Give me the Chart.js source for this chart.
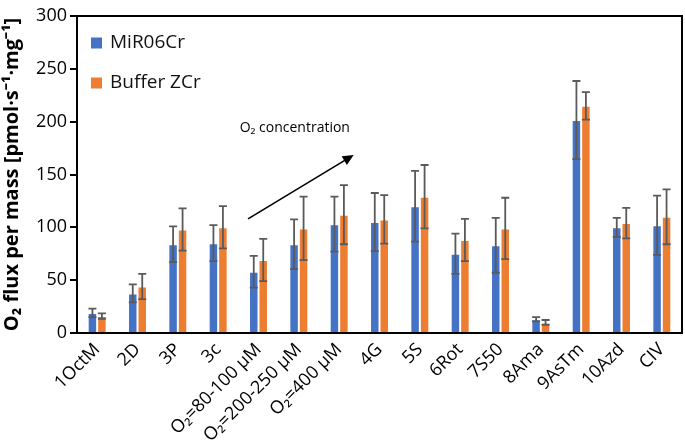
<!DOCTYPE html>
<html>
<head>
<meta charset="utf-8">
<script src="https://cdn.jsdelivr.net/npm/chart.js@4"></script>
<style>
  html, body { margin: 0; padding: 0; background: #fff; }
  #wrap { width: 685px; height: 440px; position: relative; }
</style>
</head>
<body>
<div id="wrap"><canvas id="fluxChart"></canvas></div>
<script>
// categories and values
const categories = ['1OctM', '2D', '3P', '3c', 'O\u2082=80-100 \u00b5M', 'O\u2082=200-250 \u00b5M', 'O\u2082=400 \u00b5M',
  '4G', '5S', '6Rot', '7S50', '8Ama', '9AsTm', '10Azd', 'CIV'];
const mirValues = [19, 37.5, 84, 85, 58, 84, 103, 105, 120, 75, 83, 13, 201.5, 100, 102];
const mirErrors = [4, 8.5, 17, 17, 15, 23.5, 26, 27.5, 33.5, 19, 26, 2, 37, 9, 28];
const bufValues = [16, 44, 98, 100, 69, 99, 112, 107.5, 129, 88, 99, 10, 215, 104, 110];
const bufErrors = [2.5, 12, 20, 20, 20, 30, 28, 23, 30, 20, 29, 2.3, 13, 14.5, 26];
const yTicks = [0, 50, 100, 150, 200, 250, 300];

// arrow annotation in data units (category index, value)
const arrowFrom = [3.74, 108];
const arrowTo = [6.36, 168.5];
const arrowLabelAt = [4.9, 194];

const BLUE = '#4472C4';
const ORANGE = '#ED7D31';
const FONT = "'Open Sans', 'Liberation Sans', sans-serif";

// error bars drawn from dataset errors through the scales
const errorBars = {
  id: 'errorBars',
  afterDatasetsDraw(chart) {
    const ctx = chart.ctx;
    const y = chart.scales.y;
    ctx.save();
    ctx.strokeStyle = '#5a5a5a';
    ctx.lineWidth = 1.8;
    chart.data.datasets.forEach((ds, di) => {
      const meta = chart.getDatasetMeta(di);
      meta.data.forEach((bar, i) => {
        const v = ds.data[i], e = ds.errors[i];
        const x = bar.x;
        const top = y.getPixelForValue(v + e);
        const bot = y.getPixelForValue(v - e);
        ctx.beginPath();
        ctx.moveTo(x, top); ctx.lineTo(x, bot);
        ctx.moveTo(x - 4, top); ctx.lineTo(x + 4, top);
        ctx.moveTo(x - 4, bot); ctx.lineTo(x + 4, bot);
        ctx.stroke();
      });
    });
    ctx.restore();
  }
};

// legend inside the plot, stacked vertically
const insideLegend = {
  id: 'insideLegend',
  afterDraw(chart) {
    const ctx = chart.ctx;
    const a = chart.chartArea;
    ctx.save();
    ctx.font = '19px ' + FONT;
    ctx.textAlign = 'left';
    ctx.textBaseline = 'middle';
    chart.data.datasets.forEach((ds, i) => {
      const cy = a.top + 27 + i * 40;
      ctx.fillStyle = ds.backgroundColor;
      ctx.fillRect(a.left + 14, cy - 5.5, 11, 11);
      ctx.fillStyle = '#111';
      ctx.fillText(ds.label, a.left + 33, cy);
    });
    ctx.restore();
  }
};

// plot frame, arrow and its label
const extras = {
  id: 'extras',
  afterDraw(chart) {
    const ctx = chart.ctx;
    const a = chart.chartArea;
    const xs = chart.scales.x, ys = chart.scales.y;
    ctx.save();
    ctx.strokeStyle = '#000';
    ctx.lineWidth = 2;
    ctx.beginPath();
    ctx.moveTo(a.left, a.top);
    ctx.lineTo(a.right, a.top);
    ctx.lineTo(a.right, a.bottom);
    ctx.stroke();

    const x1 = xs.getPixelForValue(arrowFrom[0]), y1 = ys.getPixelForValue(arrowFrom[1]);
    const x2 = xs.getPixelForValue(arrowTo[0]), y2 = ys.getPixelForValue(arrowTo[1]);
    const ang = Math.atan2(y2 - y1, x2 - x1);
    ctx.lineWidth = 1.6;
    ctx.beginPath();
    ctx.moveTo(x1, y1);
    ctx.lineTo(x2 - 8 * Math.cos(ang), y2 - 8 * Math.sin(ang));
    ctx.stroke();
    ctx.fillStyle = '#000';
    ctx.beginPath();
    ctx.moveTo(x2, y2);
    ctx.lineTo(x2 - 11 * Math.cos(ang) + 5 * Math.sin(ang), y2 - 11 * Math.sin(ang) - 5 * Math.cos(ang));
    ctx.lineTo(x2 - 11 * Math.cos(ang) - 5 * Math.sin(ang), y2 - 11 * Math.sin(ang) + 5 * Math.cos(ang));
    ctx.closePath();
    ctx.fill();

    ctx.font = '14px ' + FONT;
    ctx.textAlign = 'center';
    ctx.textBaseline = 'middle';
    ctx.fillText('O\u2082 concentration', xs.getPixelForValue(arrowLabelAt[0]), ys.getPixelForValue(arrowLabelAt[1]));
    ctx.restore();
  }
};

new Chart(document.getElementById('fluxChart'), {
  type: 'bar',
  data: {
    labels: categories,
    datasets: [
      { label: 'MiR06Cr', data: mirValues, errors: mirErrors, backgroundColor: BLUE,
        borderColor: 'rgba(255,255,255,0.35)', borderWidth: 1 },
      { label: 'Buffer ZCr', data: bufValues, errors: bufErrors, backgroundColor: ORANGE,
        borderColor: 'rgba(255,255,255,0.35)', borderWidth: 1 }
    ]
  },
  options: {
    responsive: true,
    maintainAspectRatio: false,
    animation: false,
    devicePixelRatio: 1,
    layout: { padding: { top: 16, right: 3, left: 0, bottom: 0 } },
    datasets: { bar: { categoryPercentage: 0.47, barPercentage: 1 } },
    plugins: {
      legend: { display: false },
      tooltip: { enabled: false }
    },
    scales: {
      x: {
        grid: { display: false, drawTicks: false },
        border: { color: '#000', width: 2 },
        ticks: {
          color: '#000',
          font: { family: FONT, size: 18 },
          minRotation: 45,
          maxRotation: 45,
          autoSkip: false,
          padding: 6
        },
        afterFit(scale) { scale.height = 107; }
      },
      y: {
        min: 0,
        max: 300,
        afterBuildTicks(scale) { scale.ticks = yTicks.map(v => ({ value: v })); },
        grid: { drawOnChartArea: false, color: '#000', lineWidth: 2, tickLength: 7 },
        border: { color: '#000', width: 2 },
        ticks: { color: '#000', font: { family: FONT, size: 18 }, padding: 3 },
        title: {
          display: true,
          text: 'O\u2082 flux per mass [pmol\u00b7s\u207b\u00b9\u00b7mg\u207b\u00b9]',
          color: '#000',
          font: { family: FONT, size: 20, weight: 'bold' },
          padding: 0
        },
        afterFit(scale) { scale.width = 77; }
      }
    }
  },
  plugins: [errorBars, insideLegend, extras]
});
</script>
</body>
</html>
